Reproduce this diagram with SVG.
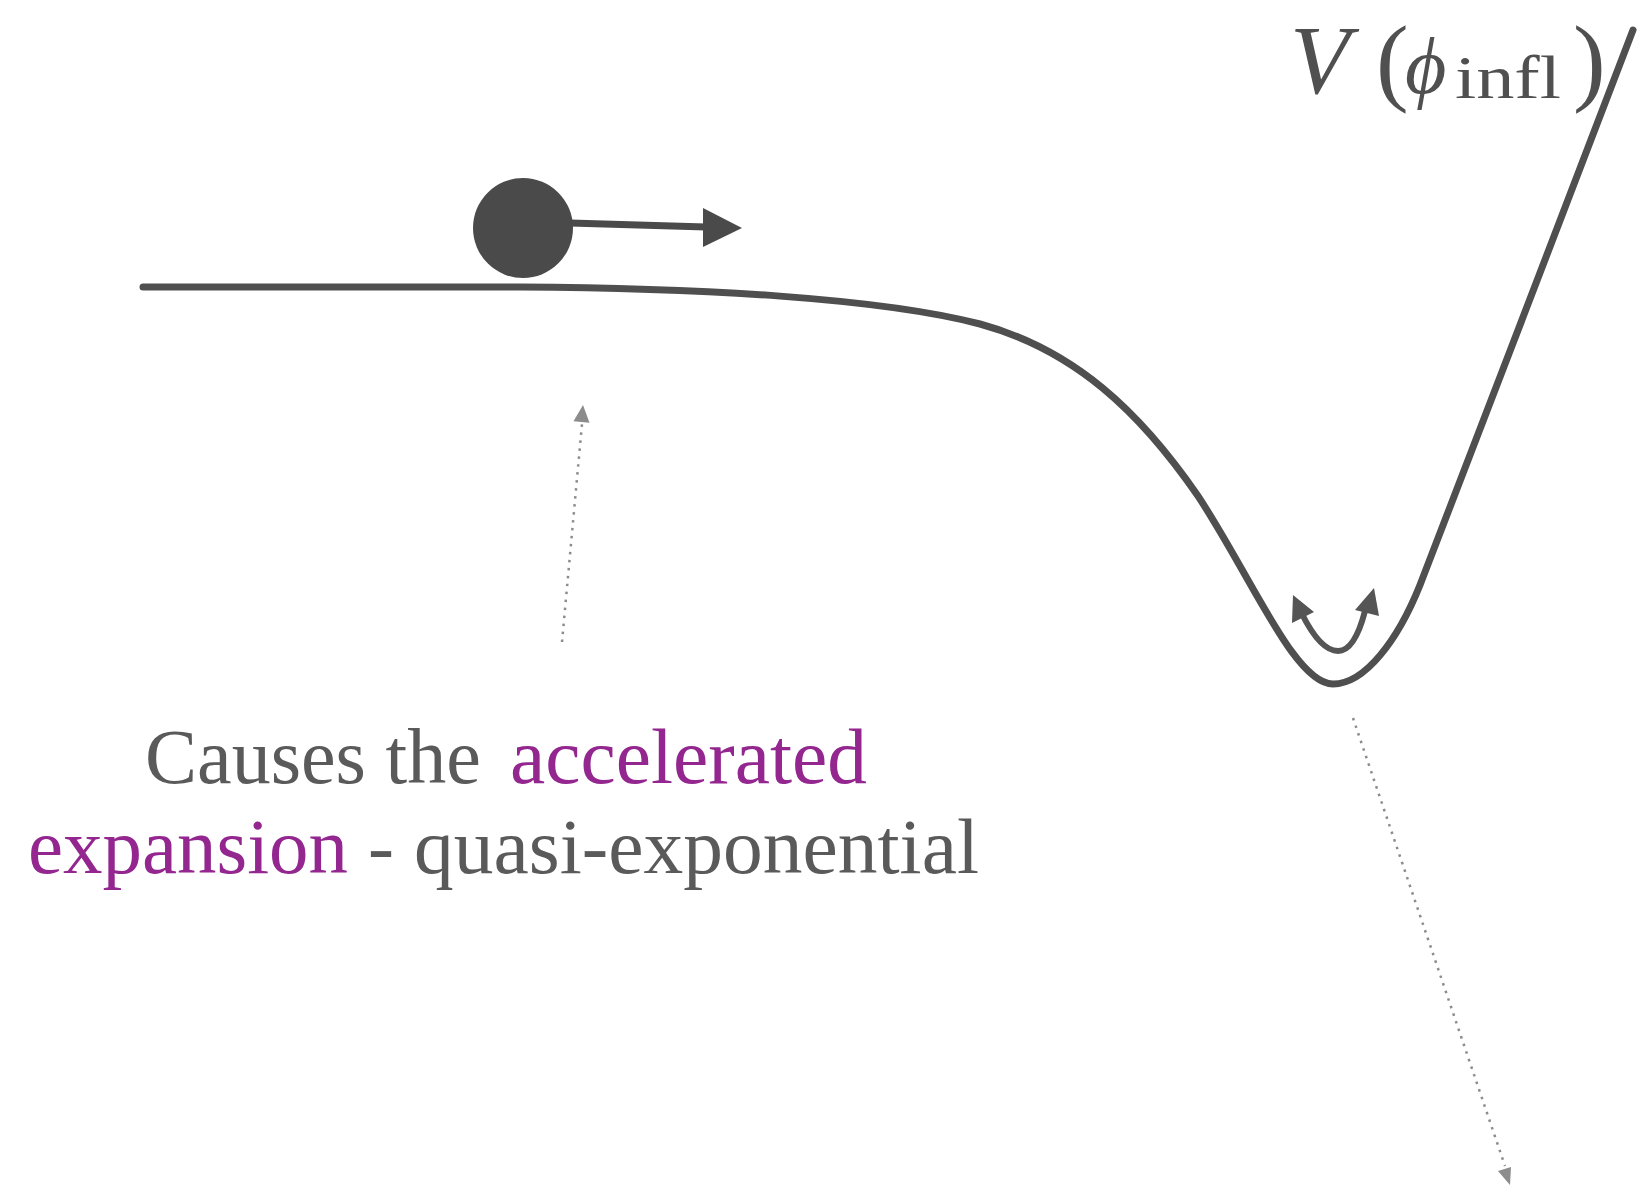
<svg xmlns="http://www.w3.org/2000/svg" width="1639" height="1188" viewBox="0 0 1639 1188">
<style>
.curve{fill:none;stroke:#4f4f4f;stroke-width:7;stroke-linecap:round;stroke-linejoin:round}
.dark{fill:#4a4a4a}
.dots{fill:none;stroke:#8c8c8c;stroke-width:2.5;stroke-dasharray:2.5 5.5}
.dothead{fill:#8c8c8c}
.body{font-family:"Liberation Serif","Times New Roman",serif;font-size:78px;fill:#5a5a5a}
.hl{fill:#93268f}
.math{font-family:"Liberation Serif","DejaVu Serif",serif;fill:#505050}
</style>
<rect width="1639" height="1188" fill="#ffffff"/>
<g id="potential">
<path class="curve" d="M143,287 L520,287 C700,288 880,298 980,324 C1075,350 1140,412 1198,496 C1252,578 1295,684 1333,684 C1365,684 1398,640 1420,585 C1490,402 1565,210 1633,30"/>
</g>
<g id="ball">
<circle cx="523" cy="228" r="50" class="dark"/>
<line x1="570" y1="223" x2="706" y2="227" stroke="#4a4a4a" stroke-width="7"/>
<polygon class="dark" points="742,228 703,208 703,247"/>
</g>
<g id="oscillation">
<path d="M1302,614 C1315,640 1327,651 1338,651 C1349,651 1358,638 1365,611" fill="none" stroke="#555555" stroke-width="6" stroke-linecap="round"/>
<polygon fill="#555555" points="1293,595 1292,623 1314,612"/>
<polygon fill="#555555" points="1374,588 1355,610 1379,616"/>
</g>
<g id="label-V">
<text class="math" x="1290" y="93" font-size="98" font-style="italic">V</text>
<text class="math" x="1376" y="93" font-size="98">(</text>
<text class="math" x="1405" y="93" font-size="80" font-style="italic" font-family="DejaVu Serif, serif">ϕ</text>
<text class="math" x="1455" y="98" font-size="62" textLength="106" lengthAdjust="spacingAndGlyphs">infl</text>
<text class="math" x="1573" y="93" font-size="98">)</text>
</g>
<g id="caption">
<text class="body" x="145" y="783">Causes the</text>
<text class="body hl" x="510" y="783" textLength="357" lengthAdjust="spacingAndGlyphs">accelerated</text>
<text class="body hl" x="28" y="873" textLength="320" lengthAdjust="spacingAndGlyphs">expansion</text>
<text class="body" x="368" y="873">-</text>
<text class="body" x="414" y="873" textLength="565" lengthAdjust="spacingAndGlyphs">quasi-exponential</text>
</g>
<g id="connectors">
<line class="dots" x1="562" y1="642" x2="582" y2="424"/>
<polygon class="dothead" points="583,405 573.5,421.3 589.5,422.7"/>
<line class="dots" x1="1353" y1="718" x2="1505" y2="1166"/>
<polygon class="dothead" points="1510,1185 1498,1171 1511,1167"/>
</g>
</svg>
